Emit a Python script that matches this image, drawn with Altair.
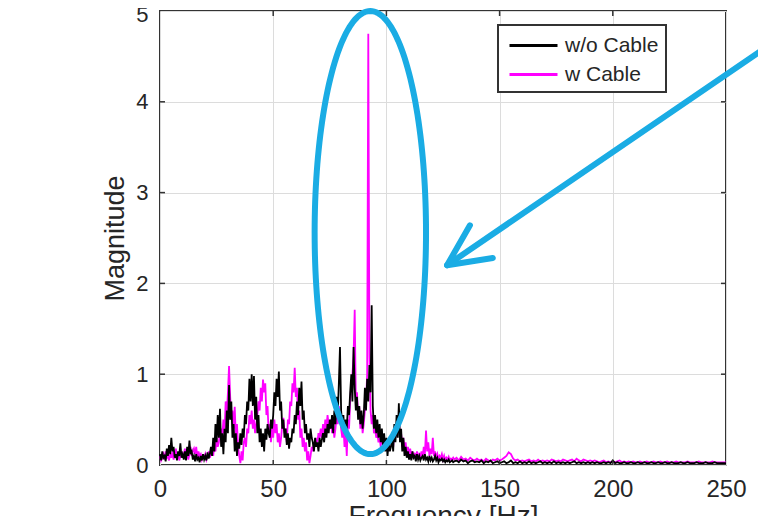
import altair as alt
import numpy as np
import pandas as pd

# ---------------- data ----------------
# 0 .. 130 Hz in 0.5 Hz steps, then 131 .. 250 Hz in 1 Hz steps
freq_low = [i * 0.5 for i in range(261)]
freq_high = list(range(131, 251))

wo_cable_low = [
    0.12,0.05,0.15,0.08,0.10,0.04,0.18,0.10,0.22,0.12,
    0.30,0.15,0.20,0.08,0.12,0.05,0.15,0.10,0.24,0.08,
    0.12,0.06,0.15,0.05,0.20,0.10,0.27,0.12,0.15,0.06,
    0.10,0.04,0.12,0.06,0.08,0.03,0.10,0.05,0.12,0.06,
    0.10,0.05,0.14,0.07,0.12,0.20,0.10,0.30,0.15,0.45,
    0.25,0.55,0.30,0.62,0.20,0.35,0.12,0.40,0.25,0.60,
    0.35,0.88,0.50,0.70,0.30,0.45,0.15,0.35,0.10,0.25,
    0.18,0.35,0.22,0.40,0.30,0.55,0.45,0.70,0.60,0.95,
    0.70,1.00,0.65,0.98,0.50,0.75,0.35,0.55,0.25,0.40,
    0.20,0.35,0.15,0.40,0.28,0.45,0.35,0.30,0.50,0.40,
    0.55,0.80,0.65,0.95,0.75,1.03,0.60,0.70,0.40,0.50,
    0.30,0.40,0.22,0.35,0.18,0.30,0.25,0.40,0.35,0.55,
    0.45,0.70,0.55,0.85,0.65,0.92,0.50,0.60,0.35,0.45,
    0.28,0.35,0.20,0.40,0.30,0.25,0.15,0.30,0.20,0.25,
    0.15,0.30,0.20,0.28,0.35,0.25,0.40,0.30,0.45,0.35,
    0.50,0.40,0.55,0.35,0.60,0.45,0.75,0.55,0.90,1.30,
    0.60,0.45,0.55,0.35,0.50,0.40,0.65,0.55,0.80,1.00,
    0.70,1.30,0.85,0.60,0.75,0.50,0.65,0.45,0.60,0.40,
    0.55,0.85,0.60,0.95,0.70,1.10,0.80,1.76,0.65,0.40,
    0.55,0.35,0.50,0.30,0.45,0.25,0.40,0.20,0.35,0.15,
    0.30,0.10,0.25,0.15,0.20,0.30,0.15,0.45,0.25,0.55,
    0.30,0.68,0.25,0.40,0.15,0.30,0.10,0.20,0.08,0.15,
    0.06,0.12,0.05,0.15,0.08,0.10,0.04,0.12,0.06,0.10,
    0.05,0.08,0.10,0.05,0.12,0.06,0.08,0.04,0.10,0.05,
    0.08,0.04,0.06,0.10,0.05,0.08,0.03,0.06,0.05,0.07,
    0.04,0.06,0.03,0.05,0.04,0.06,0.03,0.04,0.05,0.03,
    0.04,
]
wo_cable_high = [
    0.05,0.03,0.06,0.04,0.05,0.02,0.04,0.05,0.03,0.04,
    0.03,0.05,0.02,0.04,0.03,0.05,0.02,0.03,0.04,0.02,
    0.03,0.04,0.02,0.03,0.05,0.02,0.03,0.02,0.04,0.02,
    0.03,0.02,0.04,0.02,0.03,0.02,0.03,0.04,0.02,0.03,
    0.02,0.03,0.02,0.04,0.02,0.03,0.02,0.03,0.02,0.03,
    0.02,0.03,0.04,0.02,0.03,0.02,0.03,0.02,0.03,0.02,
    0.03,0.02,0.03,0.02,0.02,0.03,0.02,0.03,0.02,0.05,
    0.02,0.03,0.02,0.02,0.03,0.02,0.02,0.03,0.02,0.02,
    0.03,0.02,0.02,0.03,0.02,0.02,0.03,0.02,0.02,0.03,
    0.02,0.02,0.03,0.02,0.02,0.03,0.02,0.02,0.02,0.03,
    0.02,0.02,0.03,0.02,0.02,0.02,0.03,0.02,0.02,0.02,
    0.03,0.02,0.02,0.02,0.03,0.02,0.02,0.02,0.02,0.02,
]
w_cable_low = [
    0.10,0.05,0.08,0.12,0.06,0.15,0.08,0.10,0.05,0.12,
    0.08,0.15,0.06,0.10,0.18,0.08,0.12,0.05,0.10,0.15,
    0.08,0.12,0.18,0.10,0.15,0.06,0.12,0.20,0.10,0.15,
    0.18,0.12,0.20,0.08,0.15,0.10,0.12,0.06,0.10,0.08,
    0.12,0.06,0.10,0.15,0.08,0.12,0.18,0.10,0.22,0.15,
    0.30,0.20,0.25,0.35,0.40,0.30,0.50,0.35,0.70,0.55,
    0.80,1.09,0.75,0.50,0.60,0.40,0.64,0.30,0.45,0.20,
    0.10,0.02,0.15,0.05,0.25,0.30,0.20,0.40,0.35,0.55,
    0.45,0.60,0.40,0.50,0.35,0.45,0.55,0.70,0.60,0.85,
    0.70,0.94,0.80,0.90,0.55,0.65,0.35,0.45,0.25,0.40,
    0.30,0.50,0.35,0.45,0.25,0.35,0.20,0.30,0.45,0.52,
    0.35,0.40,0.25,0.50,0.45,0.70,0.65,0.90,0.80,1.07,
    0.75,0.85,0.50,0.60,0.30,0.40,0.20,0.30,0.15,0.25,
    0.05,0.15,0.02,0.10,0.20,0.15,0.25,0.20,0.30,0.25,
    0.35,0.30,0.40,0.30,0.45,0.35,0.50,0.40,0.55,0.45,
    0.40,0.50,0.35,0.45,0.30,0.40,0.55,0.45,0.65,0.50,
    0.40,0.30,0.45,0.20,0.35,0.10,0.50,0.40,0.70,0.90,
    1.00,1.20,1.71,0.70,0.80,0.55,0.65,0.40,0.55,0.35,
    0.45,0.60,0.70,1.00,4.75,1.20,0.60,0.45,0.55,0.35,
    0.40,0.30,0.35,0.25,0.30,0.20,0.35,0.25,0.30,0.20,
    0.25,0.15,0.20,0.30,0.25,0.35,0.20,0.40,0.30,0.45,
    0.35,0.50,0.30,0.35,0.20,0.30,0.15,0.25,0.10,0.20,
    0.12,0.18,0.10,0.15,0.08,0.12,0.10,0.15,0.08,0.12,
    0.10,0.15,0.08,0.20,0.12,0.38,0.15,0.25,0.10,0.18,
    0.12,0.30,0.10,0.15,0.08,0.12,0.06,0.10,0.08,0.12,
    0.06,0.10,0.05,0.08,0.06,0.09,0.05,0.07,0.06,0.08,
    0.06,
]
w_cable_high = [
    0.08,0.05,0.09,0.06,0.07,0.05,0.08,0.06,0.05,0.07,
    0.05,0.06,0.04,0.07,0.05,0.04,0.06,0.05,0.07,0.05,
    0.06,0.08,0.10,0.14,0.12,0.07,0.05,0.06,0.04,0.05,
    0.04,0.05,0.06,0.04,0.05,0.04,0.06,0.04,0.05,0.04,
    0.05,0.04,0.06,0.05,0.04,0.05,0.04,0.06,0.05,0.04,
    0.05,0.06,0.04,0.07,0.05,0.04,0.06,0.05,0.04,0.05,
    0.04,0.05,0.04,0.03,0.04,0.05,0.03,0.04,0.03,0.04,
    0.03,0.04,0.05,0.03,0.04,0.03,0.04,0.03,0.04,0.03,
    0.03,0.04,0.03,0.03,0.04,0.03,0.03,0.04,0.03,0.03,
    0.04,0.03,0.03,0.04,0.03,0.03,0.03,0.04,0.03,0.03,
    0.03,0.03,0.04,0.03,0.03,0.03,0.03,0.04,0.03,0.03,
    0.03,0.03,0.03,0.04,0.03,0.03,0.03,0.03,0.03,0.03,
]

series_names = ["w/o Cable", "w Cable"]
series_colors = ["#000000", "#ff00ff"]
x_ticks = [0, 50, 100, 150, 200, 250]
y_ticks = [0, 1, 2, 3, 4, 5]

# annotation (data units): ellipse around the peak and an arrow pointing at it
ellipse_center = (92.9, 2.56)
ellipse_radii = (24.6, 2.44)
arrow_shaft = [(267.7, 4.60), (126.8, 2.20)]
arrow_head = [(136.9, 2.64), (126.8, 2.20), (147.0, 2.28)]

# ---------------- tables ----------------
freq = freq_low + freq_high
df_wo = pd.DataFrame({"f": freq, "v": wo_cable_low + wo_cable_high, "s": series_names[0]})
df_w = pd.DataFrame({"f": freq, "v": w_cable_low + w_cable_high, "s": series_names[1]})

t = np.linspace(0, 2 * np.pi, 181)
df_ell = pd.DataFrame({
    "f": ellipse_center[0] + ellipse_radii[0] * np.cos(t),
    "v": ellipse_center[1] + ellipse_radii[1] * np.sin(t),
    "o": np.arange(len(t)),
})
df_arrow = pd.DataFrame(
    [{"f": p[0], "v": p[1], "seg": "shaft", "o": i} for i, p in enumerate(arrow_shaft)]
    + [{"f": p[0], "v": p[1], "seg": "head", "o": i} for i, p in enumerate(arrow_head)]
)

W, H = 566, 454
FONT = "Liberation Sans"
TXT = "#262626"

xscale = alt.Scale(domain=[0, 250], nice=False, zero=False)
yscale = alt.Scale(domain=[0, 5], nice=False, zero=False)

x_enc = alt.X("f:Q", scale=xscale, title="Frequency [Hz]",
              axis=alt.Axis(values=x_ticks, format="d", labelFontSize=24, titleFontSize=28,
                            labelPadding=12, titlePadding=1, labelFlush=False))
y_enc = alt.Y("v:Q", scale=yscale, title="Magnitude",
              axis=alt.Axis(values=y_ticks, format="d", labelFontSize=22, titleFontSize=27,
                            labelPadding=12, titlePadding=6, labelFlush=False,
                            labelOffset=alt.condition("datum.value == 5", alt.value(3), alt.value(0))))

color_enc = alt.Color("s:N", scale=alt.Scale(domain=series_names, range=series_colors),
                      legend=alt.Legend(title=None, orient="none", legendX=338, legendY=14))

line_w = alt.Chart(df_w).mark_line(strokeWidth=1.8).encode(x=x_enc, y=y_enc, color=color_enc)
line_wo = alt.Chart(df_wo).mark_line(strokeWidth=1.8).encode(x=x_enc, y=y_enc, color=color_enc)

# inward ticks (MATLAB style)
xt_in = [v for v in x_ticks if 0 < v < 250]
yt_in = [v for v in y_ticks if 0 < v < 5]
df_xt = pd.DataFrame({"f": xt_in})
df_yt = pd.DataFrame({"v": yt_in})
tick_col = "#333333"
ticks_bottom = alt.Chart(df_xt).mark_rule(color=tick_col, strokeWidth=1.5).encode(
    x=alt.X("f:Q", scale=xscale), y=alt.value(H), y2=alt.value(H - 5))
ticks_top = alt.Chart(df_xt).mark_rule(color=tick_col, strokeWidth=1.5).encode(
    x=alt.X("f:Q", scale=xscale), y=alt.value(0), y2=alt.value(5))
ticks_left = alt.Chart(df_yt).mark_rule(color=tick_col, strokeWidth=1.5).encode(
    y=alt.Y("v:Q", scale=yscale), x=alt.value(0), x2=alt.value(5))
ticks_right = alt.Chart(df_yt).mark_rule(color=tick_col, strokeWidth=1.5).encode(
    y=alt.Y("v:Q", scale=yscale), x=alt.value(W), x2=alt.value(W - 5))

blue = "#1aace4"
ellipse = alt.Chart(df_ell).mark_line(color=blue, strokeWidth=6).encode(
    x=alt.X("f:Q", scale=xscale), y=alt.Y("v:Q", scale=yscale), order="o:Q")
arrow = alt.Chart(df_arrow).mark_line(color=blue, strokeWidth=6, strokeCap="round",
                                      strokeJoin="round").encode(
    x=alt.X("f:Q", scale=xscale), y=alt.Y("v:Q", scale=yscale), order="o:Q", detail="seg:N")

chart = alt.layer(
    line_w, line_wo, ticks_bottom, ticks_top, ticks_left, ticks_right, ellipse, arrow
).properties(
    width=W, height=H,
    background="white",
    padding={"left": 152, "top": 3, "right": 32, "bottom": 51},
    autosize=alt.AutoSizeParams(type="none"),
).configure_view(
    stroke="#333333", strokeWidth=2
).configure_axis(
    domain=False, ticks=False, grid=True, gridColor="#dcdcdc", gridWidth=1,
    labelFont=FONT, titleFont=FONT, labelColor=TXT, titleColor=TXT, titleFontWeight="normal",
).configure_legend(
    symbolType="M-0.75,0H3.25", symbolSize=576, symbolStrokeWidth=3,
    labelFont=FONT, labelFontSize=21, labelColor=TXT, labelOffset=33,
    padding=7, rowPadding=5, fillColor="white", strokeColor="#333333", strokeWidth=2,
)

chart.save("out.html", embed_options={"renderer": "svg", "actions": False})
